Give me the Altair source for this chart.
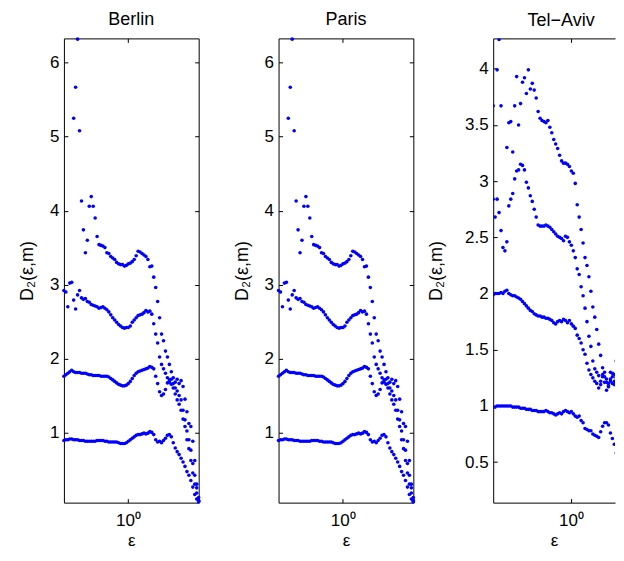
import altair as alt
import pandas as pd

FONT = "Liberation Sans"

# epsilon grid (log-spaced values)
EPS = [0.1861, 0.1941, 0.2024, 0.2112, 0.2203, 0.2298, 0.2397, 0.2500, 0.2608, 0.2720,
       0.2837, 0.2960, 0.3087, 0.3220, 0.3359, 0.3504, 0.3655, 0.3812, 0.3977, 0.4148,
       0.4327, 0.4513, 0.4708, 0.4911, 0.5123, 0.5343, 0.5574, 0.5814, 0.6065, 0.6326,
       0.6599, 0.6883, 0.7180, 0.7490, 0.7812, 0.8149, 0.8500, 0.8867, 0.9249, 0.9648,
       1.0064, 1.0498, 1.0950, 1.1422, 1.1915, 1.2428, 1.2964, 1.3523, 1.4106, 1.4714,
       1.5348, 1.6009, 1.6699, 1.7419, 1.8170, 1.8953, 1.9770, 2.0622, 2.1511, 2.2438,
       2.3405, 2.4414, 2.5466, 2.6564, 2.7709, 2.8903, 3.0149, 3.1448, 3.2804, 3.4218,
       3.5693, 3.7231, 3.8836, 4.0510, 4.2256, 4.4077, 4.5977]

BERLIN_START = 7   # Berlin / Paris series begin at EPS[7]
TELAVIV_START = 0  # Tel-Aviv series begin at EPS[0]

BERLIN_M1 = [0.89, 0.90, 0.90, 0.91, 0.91, 0.90, 0.90, 0.90, 0.89, 0.89,
             0.89, 0.88, 0.88, 0.88, 0.88, 0.88, 0.88, 0.89, 0.89, 0.89,
             0.89, 0.88, 0.88, 0.87, 0.87, 0.87, 0.87, 0.87, 0.86, 0.85,
             0.85, 0.85, 0.86, 0.88, 0.90, 0.92, 0.94, 0.96, 0.97, 0.97,
             0.98, 0.99, 0.98, 0.99, 1.01, 1.00, 0.97, 0.90, 0.87, 0.88,
             0.86, 0.89, 0.92, 0.96, 0.97, 0.94, 0.86, 0.79, 0.74, 0.70,
             0.65, 0.60, 0.54, 0.47, 0.42, 0.35, 0.26, 0.16, 0.10, 0.06]
BERLIN_M2 = [1.76, 1.78, 1.80, 1.82, 1.84, 1.82, 1.81, 1.81, 1.81, 1.80,
             1.80, 1.80, 1.79, 1.78, 1.78, 1.77, 1.77, 1.77, 1.77, 1.76,
             1.76, 1.76, 1.76, 1.75, 1.73, 1.71, 1.69, 1.67, 1.65, 1.64,
             1.63, 1.63, 1.64, 1.66, 1.69, 1.73, 1.77, 1.80, 1.82, 1.83,
             1.84, 1.85, 1.86, 1.87, 1.89, 1.88, 1.86, 1.76, 1.66, 1.55,
             1.50, 1.52, 1.58, 1.67, 1.71, 1.65, 1.60, 1.52, 1.44, 1.38,
             1.30, 1.18, 1.08, 0.90, 0.78, 0.62, 0.45, 0.30, 0.18, 0.07]
BERLIN_M3 = [2.92, 2.90, 2.70, 3.02, 3.03, 2.79, 2.67, 2.86, 2.92, 2.82,
             2.80, 2.81, 2.77, 2.76, 2.73, 2.72, 2.71, 2.70, 2.68, 2.69,
             2.70, 2.68, 2.66, 2.63, 2.59, 2.55, 2.52, 2.49, 2.46, 2.44,
             2.42, 2.41, 2.42, 2.42, 2.44, 2.49, 2.52, 2.55, 2.58, 2.59,
             2.60, 2.62, 2.65, 2.63, 2.64, 2.60, 2.47, 2.33, 2.21, 2.02,
             1.92, 1.86, 1.80, 1.74, 1.68, 1.72, 1.66, 1.60, 1.56, 1.50,
             1.44, 1.30, 1.17, 1.02, 0.90, 0.76, 0.58, 0.42, 0.25, 0.12]
BERLIN_M4 = [None, None, None, None, None, 5.25, 5.67, 6.32, 5.08, 4.13,
             3.74, 3.43, 3.60, 4.06, 4.19, 4.06, 3.90, 3.65, 3.54, 3.53,
             3.52, 3.50, 3.43, 3.42, 3.38, 3.36, 3.34, 3.30, 3.28, 3.27,
             3.27, 3.25, 3.26, 3.28, 3.29, 3.31, 3.34, 3.39, 3.45, 3.44,
             3.42, 3.40, 3.38, 3.34, 3.24, 3.25, 3.10, 2.96, 2.77, 2.55,
             2.33, 2.24, 2.10, 2.02, 1.92, 1.82, 1.74, 1.68, 1.72, 1.66,
             1.70, 1.62, 1.45, 1.28, 1.12, 1.08, 0.88, 0.62, 0.30, 0.08]

# the Paris panel of the reference shows the same points as Berlin
PARIS_M1 = list(BERLIN_M1)
PARIS_M2 = list(BERLIN_M2)
PARIS_M3 = list(BERLIN_M3)
PARIS_M4 = list(BERLIN_M4)

TELAVIV_M1 = [0.99, 0.99, 1.00, 1.00, 1.00, 1.00, 1.00, 1.00, 1.00, 1.00,
              0.99, 0.99, 0.99, 0.99, 0.98, 0.98, 0.98, 0.97, 0.97, 0.97,
              0.96, 0.96, 0.96, 0.95, 0.95, 0.95, 0.95, 0.96, 0.95, 0.94,
              0.94, 0.93, 0.92, 0.93, 0.94, 0.93, 0.95, 0.96, 0.95, 0.94,
              0.95, 0.93, 0.91, 0.90, 0.91, 0.87, 0.85, 0.80, 0.79, 0.78,
              0.78, 0.75, 0.74, 0.73, 0.72, 0.77, 0.82, 0.85, 0.85, 0.83,
              0.76, 0.71, 0.66, 0.58, 0.50, 0.41]
TELAVIV_M2 = [1.99, 2.00, 2.00, 2.00, 2.01, 2.00, 2.02, 2.03, 2.00, 1.99,
              1.98, 1.98, 1.97, 1.96, 1.95, 1.93, 1.91, 1.89, 1.87, 1.85,
              1.84, 1.82, 1.81, 1.80, 1.80, 1.79, 1.79, 1.78, 1.78, 1.77,
              1.76, 1.74, 1.73, 1.75, 1.76, 1.75, 1.77, 1.76, 1.74, 1.76,
              1.73, 1.71, 1.69, 1.63, 1.60, 1.56, 1.50, 1.46, 1.38, 1.32,
              1.28, 1.25, 1.22, 1.20, 1.16, 1.19, 1.26, 1.21, 1.14, 1.17,
              1.24, 1.29, 1.22, 1.26, 1.20, 1.09]
TELAVIV_M3 = [2.84, 2.68, 2.84, 2.72, 2.56, 2.41, 2.38, 2.46, 2.78, 2.84,
              2.89, 3.02, 3.09, 3.10, 3.15, 3.14, 3.10, 2.99, 2.94, 2.87,
              2.82, 2.75, 2.68, 2.61, 2.60, 2.60, 2.60, 2.61, 2.60, 2.59,
              2.57, 2.55, 2.53, 2.51, 2.50, 2.49, 2.47, 2.51, 2.50, 2.46,
              2.43, 2.38, 2.32, 2.22, 2.17, 2.06, 1.98, 1.87, 1.75, 1.62,
              1.53, 1.40, 1.33, 1.30, 1.27, 1.22, 1.28, 1.30, 1.24, 1.20,
              1.30, 1.26, 1.19, 1.25, 1.30, 1.15]
TELAVIV_M4 = [3.67, None, 3.99, 4.26, 3.67, None, None, 3.30, 3.52, 3.53,
              3.26, 3.67, 3.93, 3.50, 3.69, 3.88, 3.92, 3.78, 3.99, 3.82,
              3.87, 3.81, 3.74, 3.62, 3.56, 3.54, 3.53, 3.52, 3.54, 3.48,
              3.43, 3.37, 3.33, 3.29, 3.23, 3.18, 3.16, 3.16, 3.15, 3.13,
              3.09, 3.07, 2.98, 2.79, 2.68, 2.57, 2.45, 2.32, 2.25, 2.15,
              2.02, 1.88, 1.79, 1.68, 1.55, 1.45, 1.34, 1.26, 1.21, 1.18,
              1.22, 1.20, 1.28, 1.40, 1.58, 1.63]

TITLES = ["Berlin", "Paris", "Tel\u2212Aviv"]
Y_TITLE = "D\u2082(\u03b5,m)"
X_TITLE = "\u03b5"
X_TICKS = [1]
Y_TICKS_EU = [1, 2, 3, 4, 5, 6]
Y_TICKS_TA = [0.5, 1, 1.5, 2, 2.5, 3, 3.5, 4]
X_DOMAIN_EU = [0.25, 4.6]
X_DOMAIN_TA = [0.1861, 2.5836]   # the Tel-Aviv panel is cut by the right edge of the page
Y_DOMAIN_EU = [0.05, 6.33]
Y_DOMAIN_TA = [0.14, 4.27]

H = 465


def frame(curves, start):
    rows = []
    for m, vals in enumerate(curves, start=1):
        for k, v in enumerate(vals):
            if v is not None:
                rows.append({"eps": EPS[start + k], "d2": v, "m": m})
    return pd.DataFrame(rows)


def panel(df, name, xdom, ydom, yvals, width, title_pad, full_box, title_dx, clip):
    xs = alt.Scale(type="log", domain=xdom, nice=False)
    ys = alt.Scale(domain=ydom, nice=False, zero=False)
    base = alt.Chart(df)
    main = base.mark_circle(size=13, color="#0000ff", opacity=1, clip=clip).encode(
        x=alt.X("eps:Q", scale=xs, axis=alt.Axis(
            values=X_TICKS, labelExpr="datum.value == 1 ? '10\u2070' : ''",
            ticks=False, domain=True, grid=False, labelPadding=10,
            title=X_TITLE, titlePadding=4, titleFontSize=17)),
        y=alt.Y("d2:Q", scale=ys, axis=alt.Axis(
            values=yvals, format="~g", ticks=False, domain=True, grid=False,
            labelPadding=5, title=Y_TITLE, titlePadding=title_pad)),
    )
    ticks_a = base.mark_circle(opacity=0, size=4, clip=clip).encode(
        x=alt.X("eps:Q", scale=xs, axis=alt.Axis(
            orient="top", offset=-H, values=X_TICKS, labels=False, domain=False,
            tickSize=4, grid=False, title="")),
        y=alt.Y("d2:Q", scale=ys, axis=alt.Axis(
            orient="right", offset=-width, values=yvals, labels=False, domain=False,
            tickSize=4, grid=False, title="")),
    )
    if full_box:
        yb = alt.Y("d2:Q", scale=ys, axis=alt.Axis(
            orient="left", offset=-width, values=yvals, labels=False, domain=True,
            tickSize=4, grid=False, title=""))
    else:
        yb = alt.Y("d2:Q", scale=ys, axis=alt.Axis(
            orient="left", offset=-width, labels=False, domain=False, ticks=False,
            grid=False, title=""))
    ticks_b = base.mark_circle(opacity=0, size=4, clip=clip).encode(
        x=alt.X("eps:Q", scale=xs, axis=alt.Axis(
            orient="bottom", offset=-H, values=X_TICKS, labels=False, domain=True,
            tickSize=4, grid=False, title="")),
        y=yb,
    )
    return alt.layer(main, ticks_a, ticks_b).resolve_axis(
        x="independent", y="independent"
    ).properties(width=width, height=H, title=alt.TitleParams(name, dx=title_dx))


berlin = panel(frame([BERLIN_M1, BERLIN_M2, BERLIN_M3, BERLIN_M4], BERLIN_START),
               TITLES[0], X_DOMAIN_EU, Y_DOMAIN_EU, Y_TICKS_EU, 135, 13, True, 0, False)
paris = panel(frame([PARIS_M1, PARIS_M2, PARIS_M3, PARIS_M4], BERLIN_START),
              TITLES[1], X_DOMAIN_EU, Y_DOMAIN_EU, Y_TICKS_EU, 135, 13, True, 0, False)
telaviv = panel(frame([TELAVIV_M1, TELAVIV_M2, TELAVIV_M3, TELAVIV_M4], TELAVIV_START),
                TITLES[2], X_DOMAIN_TA, Y_DOMAIN_TA, Y_TICKS_TA, 122, 19, False, 7, True)

chart = alt.hconcat(berlin, paris, telaviv, spacing=80, bounds="flush").properties(
    padding={"left": 10, "right": 0, "top": 2, "bottom": 0}
).configure_view(
    stroke="transparent"
).configure_axis(
    labelFont=FONT, labelFontSize=17, labelColor="black",
    titleFont=FONT, titleFontSize=18, titleFontWeight="normal", titleColor="black",
    domainColor="black", domainWidth=1, tickColor="black", tickWidth=1,
).configure_title(
    font=FONT, fontSize=18, fontWeight="normal", color="black", offset=8
)

chart.save("out.html", embed_options={"renderer": "svg", "actions": False})
